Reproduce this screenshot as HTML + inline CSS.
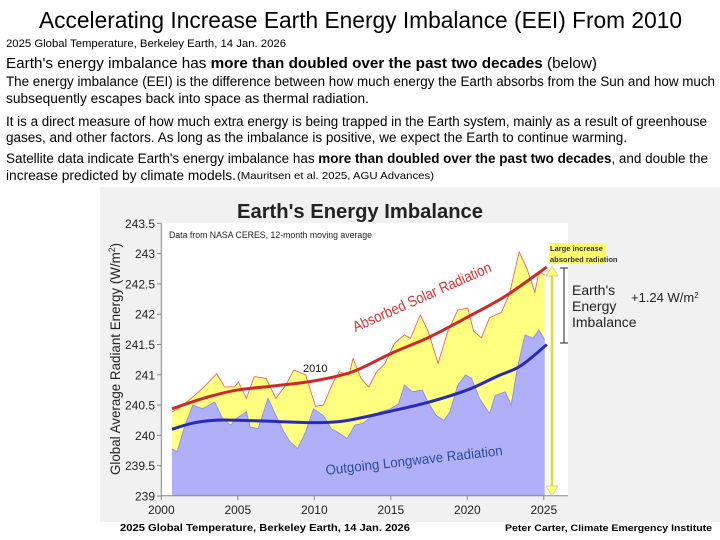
<!DOCTYPE html>
<html><head><meta charset="utf-8"><style>
html,body{margin:0;padding:0;background:#fff;}
svg{display:block;font-family:"Liberation Sans",sans-serif;}
</style></head><body>
<svg id="s" width="720" height="540" viewBox="0 0 720 540" xmlns="http://www.w3.org/2000/svg">
<text x="39" y="28" font-size="23" textLength="643" lengthAdjust="spacingAndGlyphs">Accelerating  Increase Earth Energy Imbalance (EEI) From 2010</text>
<text x="6" y="47" font-size="11" textLength="280" lengthAdjust="spacingAndGlyphs">2025 Global Temperature, Berkeley Earth, 14 Jan. 2026</text>
<text x="6" y="68" font-size="15" textLength="591" lengthAdjust="spacingAndGlyphs">Earth's energy imbalance has <tspan font-weight="bold">more than doubled over the past two decades</tspan> (below)</text>
<g font-size="13.5">
<text x="6" y="86" textLength="709" lengthAdjust="spacingAndGlyphs">The energy imbalance (EEI) is the difference between how much energy the Earth absorbs from the Sun and how much</text>
<text x="6" y="103" textLength="363" lengthAdjust="spacingAndGlyphs">subsequently escapes back into space as thermal radiation.</text>
<text x="6" y="126" textLength="701" lengthAdjust="spacingAndGlyphs">It is a direct measure of how much extra energy is being trapped in the Earth system, mainly as a result of greenhouse</text>
<text x="6" y="142" textLength="621" lengthAdjust="spacingAndGlyphs">gases, and other factors. As long as the imbalance is positive, we expect the Earth to continue warming.</text>
<text x="6" y="163" textLength="702" lengthAdjust="spacingAndGlyphs">Satellite data indicate Earth's energy imbalance has <tspan font-weight="bold">more than doubled over the past two decades</tspan>, and double the</text>
<text x="6" y="180" textLength="230" lengthAdjust="spacingAndGlyphs">increase predicted by climate models.</text>
<text x="237" y="179" font-size="10.5" textLength="197" lengthAdjust="spacingAndGlyphs">(Mauritsen et al. 2025, AGU Advances)</text>
</g>
<rect x="100" y="187" width="620" height="335" fill="#f1f1f1"/>
<rect x="162" y="223" width="406" height="273" fill="#fff"/>
<text x="360" y="218" font-size="20" font-weight="bold" text-anchor="middle" textLength="246" lengthAdjust="spacingAndGlyphs" fill="#222">Earth's Energy Imbalance</text>
<text x="169" y="238" font-size="9" textLength="203" lengthAdjust="spacingAndGlyphs" fill="#222">Data from NASA CERES, 12-month moving average</text>
<g id="plot"></g>
<text transform="translate(120,359) rotate(-90)" font-size="14" text-anchor="middle" textLength="232" lengthAdjust="spacingAndGlyphs" fill="#222">Global  Average  Radiant  Energy  (W/m<tspan baseline-shift="super" font-size="9">2</tspan>)</text>
<rect x="549" y="243" width="57" height="21" fill="#ffff66"/>
<text x="550" y="251" font-size="7.5" font-weight="bold" fill="#333">Large increase</text>
<text x="550" y="262" font-size="7.5" font-weight="bold" fill="#333">absorbed radiation</text>
<g>
<line x1="552" y1="272" x2="552" y2="490" stroke="#ffff66" stroke-width="4"/>
<line x1="552" y1="272" x2="552" y2="490" stroke="#aaa" stroke-width="1"/>
<polygon points="546,276 552,266 558,276" fill="#ffff66" stroke="#aaa" stroke-width="0.5"/>
<polygon points="546,486 552,496 558,486" fill="#ffff66" stroke="#aaa" stroke-width="0.5"/>
</g>
<g stroke="#222" stroke-width="1">
<line x1="564" y1="268" x2="564" y2="343"/><line x1="560" y1="268" x2="568" y2="268"/><line x1="560" y1="343" x2="568" y2="343"/>
</g>
<g font-size="14" fill="#222">
<text x="572" y="295">Earth's</text><text x="572" y="311">Energy</text><text x="572" y="327">Imbalance</text>
</g>
<text x="631" y="302" font-size="13" fill="#222">+1.24  W/m<tspan baseline-shift="super" font-size="8">2</tspan></text>
<text x="422" y="302" font-size="15" fill="#e03030" text-anchor="middle" transform="rotate(-24 422 297)" textLength="150" lengthAdjust="spacingAndGlyphs">Absorbed Solar Radiation</text>
<text x="414" y="465" font-size="14" fill="#2d4a9a" text-anchor="middle" transform="rotate(-6.4 414 460)" textLength="178" lengthAdjust="spacingAndGlyphs">Outgoing Longwave Radiation</text>
<text x="303" y="372" font-size="11" fill="#111">2010</text>
<text x="120" y="531" font-size="10" font-weight="bold" textLength="290" lengthAdjust="spacingAndGlyphs">2025 Global Temperature, Berkeley Earth, 14 Jan. 2026</text>
<text x="505" y="531" font-size="9" font-weight="bold" textLength="207" lengthAdjust="spacingAndGlyphs">Peter Carter, Climate Emergency Institute</text>
</svg>
<script>
const asrYears=[2000.7,2001.16,2001.94,2002.71,2003.62,2004.13,2004.78,2005.04,2005.56,2006.07,2006.85,2007.49,2008.14,2008.66,2009.43,2010.08,2010.59,2011.24,2011.63,2012.27,2012.53,2013.05,2013.57,2014.08,2014.6,2015.25,2015.89,2016.28,2016.93,2017.44,2018.09,2018.73,2019.38,2020.03,2020.41,2020.93,2021.45,2022.22,2022.74,2023.39,2023.9,2024.42,2024.68,2025.06];
const asrValues=[240.39,240.45,240.61,240.78,241.02,240.8,240.8,240.88,240.61,240.97,240.94,240.61,240.83,241.08,241.0,240.48,240.5,240.88,241.05,240.99,241.27,240.94,240.8,241.05,241.18,241.52,241.66,241.6,241.99,241.72,241.19,241.72,242.07,242.1,241.72,241.61,241.94,242.03,242.32,243.03,242.75,242.36,242.7,242.65];
const olrYears=[2000.7,2001.03,2001.55,2002.06,2002.71,2003.49,2004.0,2004.52,2004.91,2005.56,2005.81,2006.33,2006.98,2007.49,2008.01,2008.4,2008.91,2009.43,2009.95,2010.59,2011.11,2011.5,2012.14,2012.66,2013.18,2013.83,2014.34,2014.99,2015.5,2015.89,2016.41,2017.05,2017.44,2017.96,2018.48,2018.86,2019.38,2019.89,2020.28,2020.8,2021.45,2021.83,2022.48,2022.87,2023.26,2023.77,2024.29,2024.68,2025.06];
const olrValues=[239.78,239.73,240.17,240.5,240.44,240.55,240.28,240.17,240.28,240.39,240.14,240.11,240.61,240.33,240.06,239.9,239.78,240.06,240.44,240.33,240.11,240.06,239.95,240.17,240.2,240.33,240.39,240.44,240.52,240.83,240.72,240.75,240.55,240.33,240.25,240.39,240.83,241.0,240.94,240.61,240.36,240.66,240.72,240.5,241.1,241.66,241.6,241.74,241.58];
const asrTrendYears=[2000.7,2003,2005,2007.5,2010,2012.5,2015,2017.5,2020,2022.5,2025.2];
const asrTrendValues=[240.44,240.63,240.75,240.82,240.9,241.05,241.35,241.62,241.95,242.3,242.78];
const olrTrendYears=[2000.7,2002,2003.5,2005,2007.5,2010,2012,2015,2017.5,2020,2022,2023.5,2025.2];
const olrTrendValues=[240.1,240.2,240.25,240.25,240.23,240.21,240.24,240.4,240.55,240.75,240.98,241.15,241.5];
const yTicks=[239,239.5,240,240.5,241,241.5,242,242.5,243,243.5];
const xTicks=[2000,2005,2010,2015,2020,2025];
const NS='http://www.w3.org/2000/svg';
const X=y=>161.3+(y-2000)*15.3;
const Y=v=>223.3+(243.5-v)*60.6;
const g=document.getElementById('plot');
function mk(t,a){const e=document.createElementNS(NS,t);for(const k in a)e.setAttribute(k,a[k]);g.appendChild(e);return e;}
function line(xs,vs){return xs.map((x,i)=>X(x).toFixed(1)+','+Y(vs[i]).toFixed(1)).join(' ');}
function area(xs,vs){return 'M'+X(xs[0])+','+Y(239)+' L'+line(xs,vs).split(' ').join(' L')+' L'+X(xs[xs.length-1])+','+Y(239)+'Z';}
const a1=mk('path',{d:area(asrYears,asrValues),fill:'#ffff80'});


const a2=mk('path',{d:area(olrYears,olrValues),fill:'#b0b0fa'});


const l1=mk('polyline',{points:line(asrYears,asrValues),fill:'none',stroke:'#ff5050','stroke-width':0.8});


const l2=mk('polyline',{points:line(olrYears,olrValues),fill:'none',stroke:'#8888ee','stroke-width':0.8});


function smooth(xs,vs){const p=xs.map((x,i)=>[X(x),Y(vs[i])]);let d='M'+p[0];for(let i=0;i<p.length-1;i++){const p0=p[i-1]||p[i],p1=p[i],p2=p[i+1],p3=p[i+2]||p2;d+=' C'+(p1[0]+(p2[0]-p0[0])/6)+','+(p1[1]+(p2[1]-p0[1])/6)+' '+(p2[0]-(p3[0]-p1[0])/6)+','+(p2[1]-(p3[1]-p1[1])/6)+' '+p2;}return d;}
const t1=mk('path',{d:smooth(asrTrendYears,asrTrendValues),fill:'none',stroke:'#cc2a2a','stroke-width':3});


const t2=mk('path',{d:smooth(olrTrendYears,olrTrendValues),fill:'none',stroke:'#2a2ab8','stroke-width':3});


const ax=mk('line',{x1:161.3,y1:223,x2:161.3,y2:496,stroke:'#888','stroke-width':1});


const bx=mk('line',{x1:161.3,y1:495.7,x2:568,y2:495.7,stroke:'#888','stroke-width':1});


yTicks.forEach(v=>{
 mk('line',{x1:157,y1:Y(v),x2:161.3,y2:Y(v),stroke:'#888'});
 const t=mk('text',{x:155,y:Y(v)+4.5,'font-size':12,'text-anchor':'end',fill:'#222'});
 
 
 t.textContent=String(v);
});
xTicks.forEach(v=>{
 mk('line',{x1:X(v),y1:495.7,x2:X(v),y2:500,stroke:'#888'});
 const t=mk('text',{x:X(v),y:514,'font-size':12,'text-anchor':'middle',fill:'#222'});
 
 
 t.textContent=String(v);
});
</script>
</body></html>
